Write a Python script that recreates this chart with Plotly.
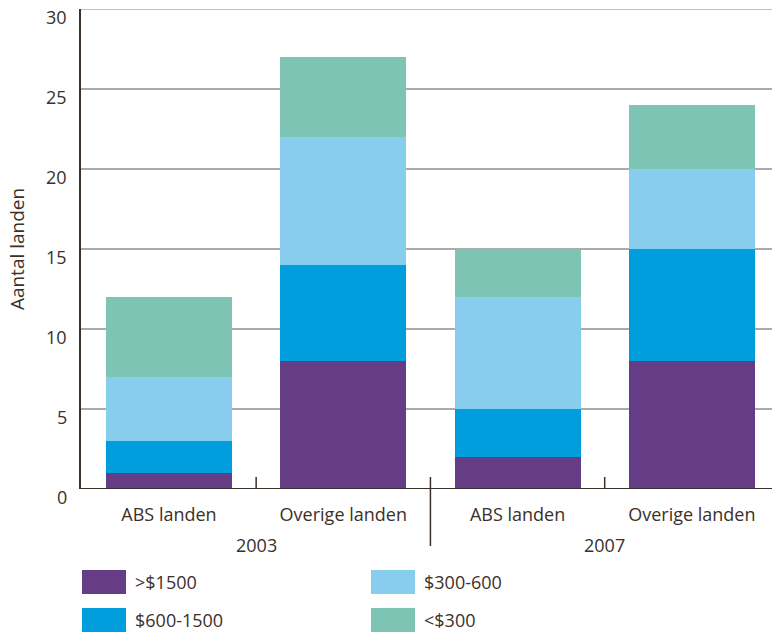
import plotly.graph_objects as go

categories = ["ABS landen", "Overige landen", "ABS landen", "Overige landen"]
years = ["2003", "2007"]
series_names = [">$1500", "$600-1500", "$300-600", "<$300"]
series_values = [
    [1, 8, 2, 8],
    [2, 6, 3, 7],
    [4, 8, 7, 5],
    [5, 5, 3, 4],
]
colors = ["#643d86", "#009ddc", "#89cdee", "#7dc4b4"]
y_ticks = [0, 5, 10, 15, 20, 25, 30]

TXT = "#3b302a"
GRID = "#ababab"
FONT = "'Open Sans', Lato, sans-serif"
FS = 18

xpos = list(range(len(categories)))
fig = go.Figure()
for name, vals, col in zip(series_names, series_values, colors):
    fig.add_trace(go.Bar(x=xpos, y=vals, name=name, marker=dict(color=col, line=dict(width=0)),
                         width=0.723, showlegend=False))

# page body margin is removed (post_script below), so the figure fills the window
W, H = 772, 633
ml, mr, mt, mb = 81, 0, 9, 633 - 489
ph = H - mt - mb
pw = W - ml - mr
fig.update_layout(
    width=W, height=H, barmode="stack",
    margin=dict(l=ml, r=mr, t=mt, b=mb, autoexpand=False),
    plot_bgcolor="white", paper_bgcolor="white",
    font=dict(family=FONT, color=TXT, size=FS),
    xaxis=dict(range=[-0.505, 3.46], tickvals=xpos, ticktext=categories,
               showgrid=False, zeroline=False, showline=False, ticks="",
               ticklabelstandoff=13, tickfont=dict(size=FS, color=TXT)),
    yaxis=dict(range=[0, 30], tickvals=y_ticks, showticklabels=False,
               showgrid=True, gridcolor=GRID, gridwidth=1.5,
               zeroline=False, showline=True, linecolor=TXT, linewidth=1.5, ticks="",
               title=dict(text="Aantal landen", font=dict(size=19, color=TXT), standoff=50)),
)

# top gridline (plotly omits gridlines at the range edge)
fig.add_shape(type="line", xref="paper", yref="y", x0=0, x1=1, y0=y_ticks[-1], y1=y_ticks[-1],
              line=dict(color=GRID, width=1.5), layer="below")

# y tick labels (slightly below gridlines as in the reference)
for v in y_ticks:
    fig.add_annotation(xref="paper", yref="y", x=0, y=v, text=str(v), showarrow=False,
                       xanchor="right", yanchor="middle", xshift=-12, yshift=-8,
                       font=dict(size=FS, color=TXT))

# bottom axis line
fig.add_shape(type="line", xref="paper", yref="y", x0=0, x1=1, y0=0, y1=0,
              line=dict(color=TXT, width=2))
# separators between categories
short = 12 / ph
for i in range(len(categories) - 1):
    xm = i + 0.5
    if (i + 1) % 2 == 0:
        fig.add_shape(type="line", xref="x", yref="paper", x0=xm, x1=xm, y0=short, y1=-57 / ph,
                      line=dict(color=TXT, width=1.5))
    else:
        fig.add_shape(type="line", xref="x", yref="paper", x0=xm, x1=xm, y0=short, y1=0,
                      line=dict(color=TXT, width=1.5))
# year labels
for j, yr in enumerate(years):
    fig.add_annotation(x=2 * j + 0.5, y=-56 / ph, xref="x", yref="paper", text=yr, showarrow=False,
                       font=dict(size=FS, color=TXT), xanchor="center", yanchor="middle")

# legend drawn manually (pixel positions converted to paper coords)
col_x = [82, 371]
row_y = [570, 608]
for k, (name, col) in enumerate(zip(series_names, colors)):
    cx = col_x[k // 2]
    ry = row_y[k % 2]
    fig.add_shape(type="rect", xref="paper", yref="paper",
                  x0=(cx - ml) / pw, x1=(cx + 44 - ml) / pw,
                  y0=(H - mb - ry) / ph, y1=(H - mb - ry - 24) / ph,
                  fillcolor=col, line=dict(width=0))
    fig.add_annotation(xref="paper", yref="paper", x=(cx + 51 - ml) / pw,
                       y=(H - mb - ry - 12) / ph, text=name.replace("$", "&#36;"), showarrow=False,
                       xanchor="left", yanchor="middle", font=dict(size=FS, color=TXT))

fig.write_html("out.html", config={"displayModeBar": False},
               post_script="document.body.style.margin='0';document.body.style.overflow='hidden';")
